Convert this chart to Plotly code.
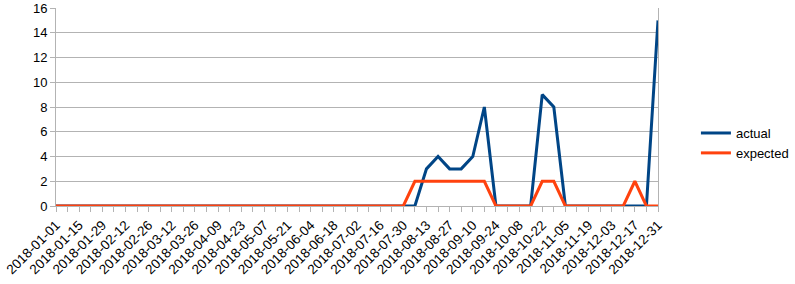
import datetime as dt
import plotly.graph_objects as go

start = dt.date(2018, 1, 1)
dates = [(start + dt.timedelta(weeks=i)).isoformat() for i in range(53)]

actual = [0]*32 + [3, 4, 3, 3, 4, 8, 0, 0, 0, 0, 9, 8, 0, 0, 0, 0, 0, 0, 0, 0, 15]
expected = [0]*31 + [2, 2, 2, 2, 2, 2, 2, 0, 0, 0, 0, 2, 2, 0, 0, 0, 0, 0, 0, 2, 0, 0]

tick_labels = [d if i % 2 == 0 else "" for i, d in enumerate(dates)]
y_ticks = [0, 2, 4, 6, 8, 10, 12, 14, 16]

FONT = "Liberation Sans, Arial, sans-serif"
GRID = "#b3b3b3"

fig = go.Figure()
fig.add_trace(go.Scatter(x=dates, y=actual, name="actual", mode="lines",
                         line=dict(color="#004586", width=3), cliponaxis=False))
fig.add_trace(go.Scatter(x=dates, y=expected, name="expected", mode="lines",
                         line=dict(color="#ff420e", width=3), cliponaxis=False))

fig.update_layout(
    width=795, height=284,
    margin=dict(l=56, r=137, t=8, b=78, autoexpand=False),
    paper_bgcolor="white", plot_bgcolor="white",
    font=dict(family=FONT, size=13, color="#000000"),
    legend=dict(x=1.063, y=0.318, xanchor="left", yanchor="middle",
                itemwidth=30, font=dict(size=13), tracegroupgap=0),
    xaxis=dict(type="category", range=[0, len(dates) - 1],
               tickmode="array", tickvals=dates, ticktext=tick_labels,
               tickangle=-45, ticks="outside", ticklen=5, tickcolor=GRID,
               showgrid=False, showline=True, linecolor=GRID, linewidth=1,
               zeroline=False, tickfont=dict(size=13.5)),
    yaxis=dict(range=[0, 16], tickmode="array", tickvals=y_ticks,
               ticks="outside", ticklen=5, tickcolor=GRID,
               showgrid=True, gridcolor=GRID, gridwidth=1,
               showline=True, linecolor=GRID, linewidth=1, mirror=True,
               zeroline=False, tickfont=dict(size=13)),
)

fig.write_html("out.html")
